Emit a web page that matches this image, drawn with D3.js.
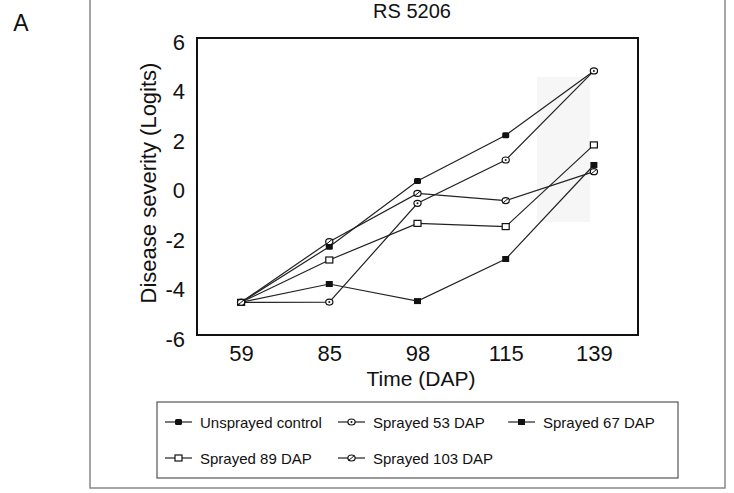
<!DOCTYPE html>
<html>
<head>
<meta charset="utf-8">
<script src="https://cdn.jsdelivr.net/npm/d3@7"></script>
<style>
  body { margin: 0; background: #fff; }
  text { font-family: "Liberation Sans", Arial, sans-serif; fill: #111; }
</style>
</head>
<body>
<script>
const w = 734
const h = 493

// data
const days = ['59', '85', '98', '115', '139']
const yTicks = [-6, -4, -2, 0, 2, 4, 6]
const seriesNames = ['Unsprayed control', 'Sprayed 53 DAP', 'Sprayed 67 DAP', 'Sprayed 89 DAP', 'Sprayed 103 DAP']
const control = [-4.68, -2.43, 0.22, 2.07, 4.67]
const sprayed53 = [-4.68, -4.67, -0.68, 1.07, 4.67]
const sprayed67 = [-4.68, -3.94, -4.63, -2.93, 0.87]
const sprayed89 = [-4.68, -2.97, -1.49, -1.62, 1.68]
const sprayed103 = [-4.68, -2.23, -0.28, -0.57, 0.6]
const markers = ['filledCircle', 'dotCircle', 'filledSquare', 'openSquare', 'crossCircle']

const allSeries = [control, sprayed53, sprayed67, sprayed89, sprayed103].map((vals, i) => ({
  name: seriesNames[i],
  marker: markers[i],
  points: vals.map((v, j) => ({ day: days[j], value: v }))
}))

const svg = d3.select('body').append('svg').attr('width', w).attr('height', h)

// outer figure frame
svg.append('path')
  .attr('d', 'M90,0 L90,488 L725,488 L725,0')
  .attr('fill', 'none').attr('stroke', '#888').attr('stroke-width', 1.5)

svg.append('text').attr('x', 21).attr('y', 31).attr('text-anchor', 'middle')
  .style('font-size', '23px').text('A')

svg.append('text').attr('x', 412).attr('y', 18).attr('text-anchor', 'middle')
  .style('font-size', '20px').text('RS 5206')

const plot = { left: 197, right: 638, top: 38, bottom: 335 }

const x = d3.scalePoint().domain(days).range([plot.left, plot.right]).padding(0.5)
const y = d3.scaleLinear().domain([-6, 6]).range([plot.bottom, plot.top])

// faint scan smear near the right end
svg.append('rect').attr('x', 537).attr('y', 77).attr('width', 53).attr('height', 145)
  .attr('fill', '#f6f6f6')

svg.append('rect')
  .attr('x', plot.left).attr('y', plot.top)
  .attr('width', plot.right - plot.left).attr('height', plot.bottom - plot.top)
  .attr('fill', 'none').attr('stroke', '#111').attr('stroke-width', 2)

const leftAxis = d3.axisLeft(y).tickValues(yTicks).tickSize(0).tickPadding(3).tickFormat(d => String(d))
const gy = svg.append('g').attr('transform', 'translate(188,4)').call(leftAxis)
gy.select('.domain').remove()
gy.selectAll('text').style('font-size', '22px').attr('font-family', null)

const bottomAxis = d3.axisBottom(x).tickSize(0).tickPadding(10)
const gx = svg.append('g').attr('transform', 'translate(0,' + plot.bottom + ')').call(bottomAxis)
gx.select('.domain').remove()
gx.selectAll('text').style('font-size', '22px').attr('font-family', null)

svg.append('text').attr('x', 421).attr('y', 386).attr('text-anchor', 'middle')
  .style('font-size', '21px').text('Time (DAP)')

svg.append('text')
  .attr('transform', 'translate(148,183) rotate(-90)')
  .attr('text-anchor', 'middle').attr('dominant-baseline', 'central')
  .style('font-size', '22px').text('Disease severity (Logits)')

function drawMarker(g, type, cx, cy) {
  if (type === 'filledCircle') {
    g.append('rect').attr('x', cx - 3.5).attr('y', cy - 3).attr('width', 7).attr('height', 6).attr('rx', 1.5)
      .attr('fill', '#111')
  } else if (type === 'filledSquare') {
    g.append('rect').attr('x', cx - 3.5).attr('y', cy - 3).attr('width', 7).attr('height', 6)
      .attr('fill', '#111')
  } else if (type === 'openSquare') {
    g.append('rect').attr('x', cx - 3.5).attr('y', cy - 3).attr('width', 7).attr('height', 6)
      .attr('fill', '#fff').attr('stroke', '#111').attr('stroke-width', 1.2)
  } else if (type === 'dotCircle') {
    g.append('ellipse').attr('cx', cx).attr('cy', cy).attr('rx', 3.6).attr('ry', 3)
      .attr('fill', '#fff').attr('stroke', '#111').attr('stroke-width', 1.2)
    g.append('circle').attr('cx', cx).attr('cy', cy).attr('r', 1).attr('fill', '#111')
  } else {
    g.append('ellipse').attr('cx', cx).attr('cy', cy).attr('rx', 3.6).attr('ry', 3)
      .attr('fill', '#fff').attr('stroke', '#111').attr('stroke-width', 1.2)
    g.append('line').attr('x1', cx - 3).attr('y1', cy + 2.5).attr('x2', cx + 3).attr('y2', cy - 2.5)
      .attr('stroke', '#111').attr('stroke-width', 1)
  }
}

const line = d3.line().x(d => x(d.day)).y(d => y(d.value))

svg.selectAll('.series-line').data(allSeries).enter().append('path')
  .attr('class', 'series-line')
  .attr('d', d => line(d.points))
  .attr('fill', 'none').attr('stroke', '#222').attr('stroke-width', 1.2)

allSeries.forEach(s => {
  const g = svg.append('g')
  s.points.forEach(p => drawMarker(g, s.marker, x(p.day), y(p.value)))
})

// legend
svg.append('rect').attr('x', 157).attr('y', 402).attr('width', 521).attr('height', 76)
  .attr('fill', '#fff').attr('stroke', '#555').attr('stroke-width', 1.2)

const legendPos = [[165, 422], [338, 422], [508, 422], [165, 458], [338, 458]]
allSeries.forEach((s, i) => {
  const [lx, ly] = legendPos[i]
  const g = svg.append('g')
  g.append('line').attr('x1', lx).attr('x2', lx + 27).attr('y1', ly).attr('y2', ly)
    .attr('stroke', '#222').attr('stroke-width', 1.2)
  drawMarker(g, s.marker, lx + 13.5, ly)
  g.append('text').attr('x', lx + 35).attr('y', ly).attr('dominant-baseline', 'central')
    .style('font-size', '15px').text(s.name)
})
</script>
</body>
</html>
